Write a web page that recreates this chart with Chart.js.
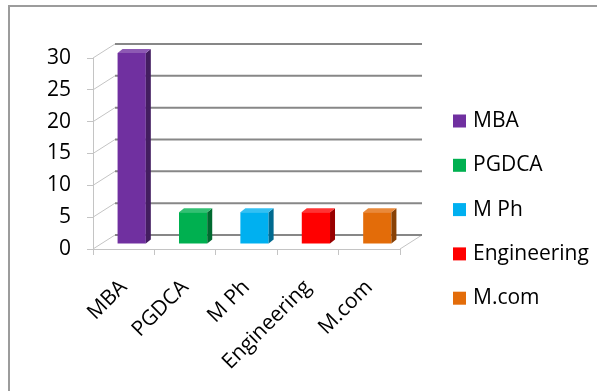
<!DOCTYPE html>
<html>
<head>
<meta charset="utf-8">
<script src="https://cdn.jsdelivr.net/npm/chart.js@4.4.1/dist/chart.umd.min.js"></script>
<style>
  html,body{margin:0;padding:0;background:#fff;}
  #wrap{position:relative;width:597px;height:391px;overflow:hidden;}
  #frame{position:absolute;left:8px;top:5px;right:-10px;bottom:-10px;border-left:2px solid #9c9c9c;border-top:2px solid #9c9c9c;}
  canvas{position:absolute;left:0;top:0;}
</style>
</head>
<body>
<div id="wrap"><div id="frame"></div><canvas id="chart" width="597" height="391"></canvas></div>
<script>
// data
const categories = ["MBA", "PGDCA", "M Ph", "Engineering", "M.com"];
const students = [30, 5, 5, 5, 5];
const barColors = ["#7030A0", "#00B050", "#00B0F0", "#FF0000", "#E36C09"];
const yMax = 30;
const yStep = 5;

const FONT = "'Open Sans'";
const WALL = {dx: 22, dy: 14};            // depth of the back wall
const BAR = {sx: 8, sy: -5, dx: 5, dy: 4}; // bar shift into depth + own depth

function shade(hex, f){
  const n = parseInt(hex.slice(1), 16);
  let r = n >> 16, g = (n >> 8) & 255, b = n & 255;
  const t = f < 0 ? 0 : 255, p = Math.abs(f);
  r = Math.round((t - r) * p + r); g = Math.round((t - g) * p + g); b = Math.round((t - b) * p + b);
  return `rgb(${r},${g},${b})`;
}

function line(ctx, x1, y1, x2, y2){
  ctx.beginPath(); ctx.moveTo(x1, y1); ctx.lineTo(x2, y2); ctx.stroke();
}

function poly(ctx, pts){
  ctx.beginPath(); ctx.moveTo(pts[0][0], pts[0][1]);
  pts.slice(1).forEach(p=>ctx.lineTo(p[0], p[1]));
  ctx.closePath(); ctx.fill();
}

const depth3d = {
  id: "depth3d",
  beforeDatasetsDraw(chart){
    const {ctx, chartArea: a, scales: {y}} = chart;
    ctx.save();
    // side wall diagonals
    ctx.strokeStyle = "#c4c4c4"; ctx.lineWidth = 1;
    y.ticks.forEach(t=>{
      const py = y.getPixelForValue(t.value);
      line(ctx, a.left, py, a.left + WALL.dx, py - WALL.dy);
    });
    // floor right edge
    const p0 = y.getPixelForValue(0);
    line(ctx, a.right, p0, a.right + WALL.dx, p0 - WALL.dy);
    // back wall gridlines
    ctx.strokeStyle = "#878787"; ctx.lineWidth = 2;
    y.ticks.forEach(t=>{
      const py = y.getPixelForValue(t.value) - WALL.dy;
      line(ctx, a.left + WALL.dx, py, a.right + WALL.dx, py);
    });
    ctx.restore();
    ctx.save();
    ctx.translate(BAR.sx, BAR.sy);
  },
  afterDatasetsDraw(chart){
    const {ctx} = chart;
    chart.getDatasetMeta(0).data.forEach((bar, i)=>{
      const {x, y, base, width} = bar.getProps(["x", "y", "base", "width"], true);
      const l = x - width / 2, r = x + width / 2;
      ctx.fillStyle = shade(barColors[i], -0.4);
      poly(ctx, [[r, y], [r + BAR.dx, y - BAR.dy], [r + BAR.dx, base - BAR.dy], [r, base]]);
      ctx.fillStyle = shade(barColors[i], 0.2);
      poly(ctx, [[l, y], [l + BAR.dx, y - BAR.dy], [r + BAR.dx, y - BAR.dy], [r, y]]);
    });
    ctx.restore();
  }
};

const sideLegend = {
  id: "sideLegend",
  afterDraw(chart){
    const {ctx, chartArea: a} = chart;
    ctx.save();
    ctx.font = `21px ${FONT}`;
    ctx.textBaseline = "middle";
    categories.forEach((c, i)=>{
      const cy = 121 + i * 44.3;
      ctx.fillStyle = barColors[i];
      ctx.fillRect(a.right + 53, cy - 6.5, 13, 13);
      ctx.fillStyle = "#000";
      ctx.fillText(c, a.right + 73, cy);
    });
    ctx.restore();
  }
};

new Chart(document.getElementById("chart"), {
  type: "bar",
  data: {
    labels: categories,
    datasets: [{
      data: students,
      backgroundColor: barColors,
      barPercentage: 0.46,
      categoryPercentage: 1,
      clip: false
    }]
  },
  options: {
    responsive: false,
    animation: false,
    layout: {padding: {left: 0, top: 58, right: 197, bottom: 0}},
    plugins: {legend: {display: false}, tooltip: {enabled: false}},
    scales: {
      x: {
        grid: {drawOnChartArea: false, offset: true, tickLength: 6, color: "#c4c4c4"},
        border: {color: "#c4c4c4"},
        ticks: {color: "#000", font: {family: FONT, size: 21}, minRotation: 45, maxRotation: 45, padding: 20},
        afterFit(s){ s.height = 142; }
      },
      y: {
        min: 0, max: yMax,
        grid: {drawOnChartArea: false, tickLength: 6, color: "#c4c4c4"},
        border: {color: "#c4c4c4"},
        ticks: {stepSize: yStep, color: "#000", font: {family: FONT, size: 21}, padding: 16},
        afterFit(s){ s.width = 93; }
      }
    }
  },
  plugins: [depth3d, sideLegend]
});
</script>
</body>
</html>
